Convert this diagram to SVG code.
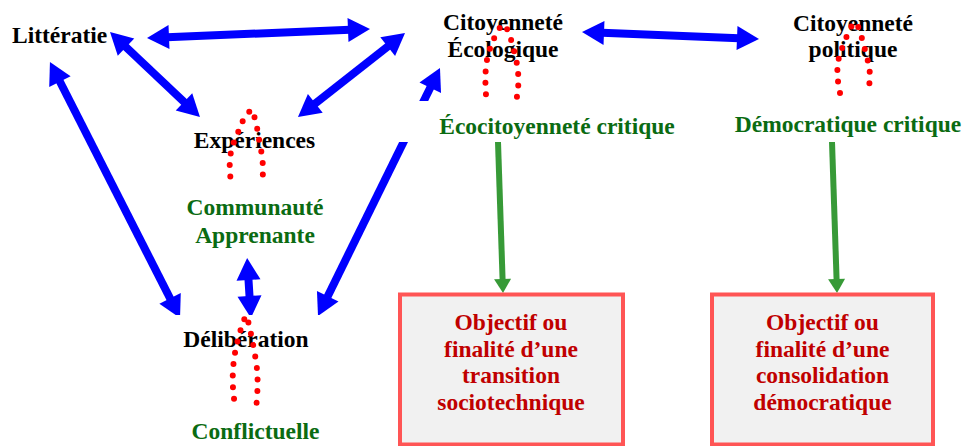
<svg xmlns="http://www.w3.org/2000/svg" width="965" height="446" viewBox="0 0 965 446">
<style>
text{font-family:"Liberation Serif","Times New Roman",serif;font-weight:bold;font-size:23.5px}
.k{fill:#000}
.g{fill:#0b6b12}
.r{fill:#c00000}
.mid{text-anchor:middle}
.blue{stroke:#0000ff;stroke-width:8;fill:none;marker-start:url(#bh);marker-end:url(#bh)}
.grn{stroke:#379a37;stroke-width:6;fill:none;marker-end:url(#gh)}
.dots{stroke:#ff0000;stroke-width:6;stroke-linecap:round;stroke-dasharray:0 11.5;fill:none}
.bg{fill:#ffffff}
.box{fill:#f1f1f1;stroke:#ff5555;stroke-width:4}
</style>
<defs>
<marker id="bh" markerUnits="userSpaceOnUse" markerWidth="30" markerHeight="30" refX="8" refY="12" orient="auto-start-reverse" overflow="visible">
<path d="M0,0 L22,12 L0,24 z" fill="#0000ff"/>
</marker>
<marker id="gh" markerUnits="userSpaceOnUse" markerWidth="20" markerHeight="20" refX="4" refY="8.5" orient="auto" overflow="visible">
<path d="M0,0 L14,8.5 L0,17 z" fill="#379a37"/>
</marker>
</defs>
<g id="connectors">
<line class="blue" x1="161" y1="37.4" x2="356" y2="29.6"/>
<line class="blue" x1="120.2" y1="41.6" x2="189.8" y2="107.4"/>
<line class="blue" x1="394" y1="41.7" x2="309" y2="108.3"/>
<line class="blue" x1="56.3" y1="74.5" x2="173.7" y2="305.5"/>
<line class="blue" x1="248" y1="272" x2="250" y2="304"/>
<line class="blue" x1="433.8" y1="80.6" x2="324.2" y2="303.4"/>
<line class="blue" x1="596" y1="32.6" x2="745" y2="38.4"/>
<line class="grn" x1="498" y1="142" x2="502.7" y2="283"/>
<line class="grn" x1="832" y1="142" x2="836.7" y2="283"/>
</g>
<g id="litteratie">
<text class="k" x="12" y="43">Littératie</text>
</g>
<g id="citoyennete-ecologique">
<text class="k mid" x="503" y="30">Citoyenneté</text>
<text class="k mid" x="503" y="57">Écologique</text>
<path class="dots" d="M487,106 C484,78 485,58 492,44 C496,32 501,24 505,25 C509,32 512,42 515,55 C520,74 519,90 515,106"/>
</g>
<g id="ecocitoyennete">
<rect class="bg" x="396" y="101" width="290" height="41"/>
<text class="g mid" x="557" y="134">Écocitoyenneté critique</text>
</g>
<g id="citoyennete-politique">
<text class="k mid" x="853" y="31">Citoyenneté</text>
<text class="k mid" x="853" y="57">politique</text>
<path class="dots" d="M840,93 C836,74 836,60 844,44 C848,32 852,22 857,23 C860,33 864,43 866,55 C872,72 870,85 867,93"/>
</g>
<g id="democratique">
<text class="g mid" x="848" y="132">Démocratique critique</text>
</g>
<g id="experiences">
<rect class="bg" x="185" y="117" width="140" height="40"/>
<text class="k mid" x="254.5" y="148">Expériences</text>
<path class="dots" d="M232,188 C228,166 229,150 237,136 C241,122 247,112 252,110 C256,120 258,132 260,146 C264,160 263,176 262,188"/>
</g>
<g id="communaute">
<rect class="bg" x="172" y="183" width="170" height="72"/>
<text class="g mid" x="255" y="215">Communauté</text>
<text class="g mid" x="255" y="243">Apprenante</text>
</g>
<g id="deliberation">
<rect class="bg" x="172" y="315" width="155" height="40"/>
<text class="k mid" x="246" y="347">Délibération</text>
<path class="dots" d="M236,410 C230,382 233,356 239,336 C242,324 245,316 247,316 C250,330 254,346 256,362 C259,380 257,396 256,410"/>
</g>
<g id="conflictuelle">
<rect class="bg" x="180" y="406" width="150" height="40"/>
<text class="g mid" x="255.5" y="439">Conflictuelle</text>
</g>
<g id="objectif-transition">
<rect class="box" x="400" y="294.5" width="223" height="150"/>
<text class="r mid" x="511" y="330">Objectif ou</text>
<text class="r mid" x="511" y="357">finalité d’une</text>
<text class="r mid" x="511" y="383">transition</text>
<text class="r mid" x="511" y="410">sociotechnique</text>
</g>
<g id="objectif-consolidation">
<rect class="box" x="712" y="294.5" width="221" height="150"/>
<text class="r mid" x="822.5" y="330">Objectif ou</text>
<text class="r mid" x="822.5" y="357">finalité d’une</text>
<text class="r mid" x="822.5" y="383">consolidation</text>
<text class="r mid" x="822.5" y="410">démocratique</text>
</g>
</svg>
